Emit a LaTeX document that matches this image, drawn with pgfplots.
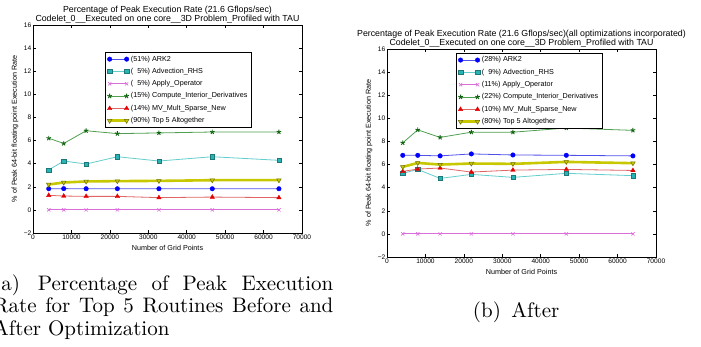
\documentclass[border=0pt]{standalone}
\usepackage{fontspec}
\usepackage{graphicx}
\usepackage{pgfplots}
\pgfplotsset{compat=1.18}
\newfontfamily\arial{Liberation Sans}
\definecolor{arkc}{RGB}{0,0,255}
\definecolor{arkl}{RGB}{80,80,235}
\definecolor{advl}{RGB}{100,205,205}
\definecolor{advm}{RGB}{40,180,180}
\definecolor{advd}{RGB}{30,120,120}
\definecolor{appc}{RGB}{220,110,220}
\definecolor{cmpl}{RGB}{80,160,80}
\definecolor{cmpm}{RGB}{15,100,15}
\definecolor{mvl}{RGB}{225,100,100}
\definecolor{mvm}{RGB}{230,0,0}
\definecolor{topl}{RGB}{200,200,0}
\definecolor{topd}{RGB}{110,110,0}
\pgfplotsset{
  mystyle/.style={
    scale only axis, width=269pt, height=208pt,
    xmin=0, xmax=70000, ymin=-2, ymax=16,
    scaled x ticks=false, scaled y ticks=false,
    xtick={0,10000,20000,30000,40000,50000,60000,70000},
    xticklabels={0,10000,20000,30000,40000,50000,60000,70000},
    ytick={-2,0,2,4,6,8,10,12,14,16},
    yticklabels={−2,0,2,4,6,8,10,12,14,16},
    tick label style={font=\arial\fontsize{6.6}{7.5}\selectfont, inner sep=1.5pt},
    label style={font=\arial\fontsize{7.2}{8.5}\selectfont},
    title style={font=\arial\fontsize{8.8}{9.5}\selectfont, align=center, at={(0.5,1)}, anchor=south, inner sep=0pt, yshift=-4.5pt},
    axis line style={line width=0.6pt},
    every tick/.style={black, line width=0.5pt},
    major tick length=3pt,
    tick align=inside,
    xlabel={Number of Grid Points},
    ylabel={\% of Peak 64-bit floating point Execution Rate},
    xlabel style={at={(axis description cs:0.5,-0.072)}, anchor=center},
    ylabel style={at={(axis description cs:-0.067,0.5)}, anchor=center},
    legend cell align=left,
    legend style={font=\arial\fontsize{7.2}{8.5}\selectfont, draw=black, line width=0.5pt, fill=white, inner xsep=2pt, inner ysep=1.5pt, row sep=1.6pt, anchor=north west},
    legend image code/.code={\draw[mark repeat=2,mark phase=1,##1] plot coordinates {(0pt,0pt) (8.5pt,0pt) (17pt,0pt)};},
  },
  sARK/.style={color=arkl, line width=0.8pt, mark=*, mark size=2.3pt, mark options={draw=arkc, fill=arkc, line width=0.3pt}},
  sADV/.style={color=advl, line width=0.8pt, mark=square*, mark size=2.2pt, mark options={draw=advd, fill=advm, line width=0.4pt}},
  sAPP/.style={color=appc, line width=0.8pt, mark=x, mark size=2.3pt, mark options={draw=appc, line width=0.6pt}},
  sCMP/.style={color=cmpl, line width=0.8pt, mark=star, mark size=2.4pt, mark options={draw=cmpm, line width=0.9pt}},
  sMV/.style={color=mvl, line width=0.8pt, mark=triangle*, mark size=2.6pt, mark options={draw=mvm, fill=mvm, line width=0.3pt}},
  sTOP/.style={color=topl, line width=2.6pt, mark=triangle*, mark size=2.6pt, mark options={rotate=180, draw=topd, fill=topl, line width=0.5pt}},
}
\begin{document}
\begin{tikzpicture}
\path[use as bounding box] (0pt,0pt) rectangle (701pt,346pt);
\clip (0pt,0pt) rectangle (701pt,346pt);
% ---------- (a) before ----------
\begin{axis}[mystyle, at={(33pt,113pt)}, anchor=south west,
  title={Percentage of Peak Execution Rate (21.6 Gflops/sec)\\Codelet\_0\_\_Executed on one core\_\_3D Problem\_Profiled with TAU},
  legend style={at={(0.268,0.870)}}]
\addplot[sARK] coordinates {(4096,1.83) (8000,1.84) (13824,1.83) (21952,1.83) (32768,1.83) (46656,1.83) (64000,1.83)};
\addlegendentry{(51\%) ARK2}
\addplot[sADV] coordinates {(4096,3.46) (8000,4.23) (13824,3.97) (21952,4.6) (32768,4.23) (46656,4.6) (64000,4.29)};
\addlegendentry{(\phantom{1}5\%) Advection\_RHS}
\addplot[sAPP] coordinates {(4096,0) (8000,0) (13824,0) (21952,0) (32768,0) (46656,0) (64000,0)};
\addlegendentry{(\phantom{1}5\%) Apply\_Operator}
\addplot[sCMP] coordinates {(4096,6.2) (8000,5.75) (13824,6.85) (21952,6.6) (32768,6.66) (46656,6.74) (64000,6.74)};
\addlegendentry{(15\%) Compute\_Interior\_Derivatives}
\addplot[sMV] coordinates {(4096,1.26) (8000,1.2) (13824,1.17) (21952,1.17) (32768,1.06) (46656,1.11) (64000,1.06)};
\addlegendentry{(14\%) MV\_Mult\_Sparse\_New}
\addplot[sTOP] coordinates {(4096,2.2) (8000,2.37) (13824,2.46) (21952,2.49) (32768,2.51) (46656,2.57) (64000,2.57)};
\addlegendentry{(90\%) Top 5 Altogether}
\end{axis}
% ---------- (b) after ----------
\begin{axis}[mystyle, at={(387pt,89pt)}, anchor=south west,
  title={Percentage of Peak Execution Rate (21.6 Gflops/sec)(all optimizations incorporated)\\Codelet\_0\_\_Executed on one core\_\_3D Problem\_Profiled with TAU},
  legend style={at={(0.2565,0.981)}}]
\addplot[sARK] coordinates {(4096,6.8) (8000,6.8) (13824,6.75) (21952,6.92) (32768,6.83) (46656,6.8) (64000,6.75)};
\addlegendentry{(28\%) ARK2}
\addplot[sADV] coordinates {(4096,5.24) (8000,5.58) (13824,4.8) (21952,5.15) (32768,4.89) (46656,5.24) (64000,5.04)};
\addlegendentry{(\phantom{1}9\%) Advection\_RHS}
\addplot[sAPP] coordinates {(4096,0) (8000,0) (13824,0) (21952,0) (32768,0) (46656,0) (64000,0)};
\addlegendentry{(11\%) Apply\_Operator}
\addplot[sCMP] coordinates {(4096,7.88) (8000,9.0) (13824,8.35) (21952,8.8) (32768,8.8) (46656,9.16) (64000,8.96)};
\addlegendentry{(22\%) Compute\_Interior\_Derivatives}
\addplot[sMV] coordinates {(4096,5.41) (8000,5.61) (13824,5.7) (21952,5.35) (32768,5.52) (46656,5.58) (64000,5.49)};
\addlegendentry{(10\%) MV\_Mult\_Sparse\_New}
\addplot[sTOP] coordinates {(4096,5.8) (8000,6.14) (13824,6.0) (21952,6.09) (32768,6.06) (46656,6.23) (64000,6.12)};
\addlegendentry{(80\%) Top 5 Altogether}
\end{axis}
% ---------- captions ----------
\node[anchor=base west, inner sep=0] at (-7pt,56pt) {\scalebox{2.1}{\makebox[162pt][s]{(a)\hspace{1.7pt} Percentage of Peak Execution}}};
\node[anchor=base west, inner sep=0] at (-7pt,33.7pt) {\scalebox{2.1}{\makebox[162pt][s]{Rate for Top 5 Routines Before and}}};
\node[anchor=base west, inner sep=0] at (-7pt,11pt) {\scalebox{2.1}{After Optimization}};
\node[anchor=base west, inner sep=0] at (472.7pt,28.7pt) {\scalebox{2.1}{(b)\hspace{1.7pt} After}};
\end{tikzpicture}
\end{document}
